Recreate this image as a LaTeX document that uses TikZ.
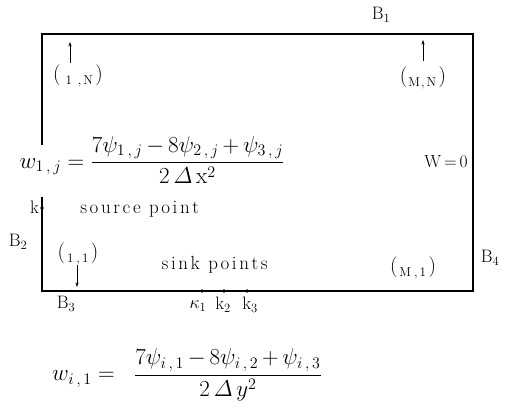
\RequirePackage{fix-cm}
\documentclass[tikz,border=0pt]{standalone}
\usepackage{amsmath}
\usepackage{fontspec}
\usetikzlibrary{arrows.meta}
\newcommand{\ijsub}[2]{{#1\,,\,#2}}
\def\lspamt{2.6pt}
\def\lsp#1{\lspA#1\relax}
\def\lspA#1{\ifx#1\relax\else#1\kern\lspamt\expandafter\lspA\fi}
\newcommand{\cidx}[4][5pt]{(\kern#1\raisebox{-0.45ex}{\fontsize{13}{15}\selectfont #2\kern#4,\kern2pt#3}\kern2.5pt)}
\begin{document}
\begin{tikzpicture}[x=1pt,y=-1pt,
  border/.style={line width=1.4pt},
  lbl/.style={inner sep=0pt, font=\fontsize{18}{21}\selectfont},
  mth/.style={inner sep=0pt, font=\fontsize{23}{27}\selectfont},
  wz/.style={inner sep=0pt, font=\fontsize{17.5}{20}\selectfont},
  idx/.style={inner sep=0pt, font=\fontsize{21}{24}\selectfont},
  spaced/.style={inner sep=0pt, font=\fontsize{19}{22}\selectfont},
  dotpt/.style={circle, fill, inner sep=0pt, minimum size=3.8pt},
  ptr/.style={-{Stealth[length=4.5pt,width=3.2pt]}, line width=0.7pt}]
\useasboundingbox (0,0) rectangle (507,413);
% corners
\coordinate (TL) at (42,34);
\coordinate (TR) at (473,34);
\coordinate (BR) at (473,291);
\coordinate (BL) at (42,291);
\coordinate (Lgap1) at (42,145);
\coordinate (Lgap2) at (42,197);
\draw[border] (Lgap1) -- (TL) -- (TR) -- (BR) -- (BL) -- (Lgap2);
% dots
\node[dotpt] (k) at (42,208) {};
\node[dotpt] (s1) at (202,291) {};
\node[dotpt] (s2) at (224,291) {};
\node[dotpt] (s3) at (247,291) {};
% boundary labels
\node[lbl] (B1) at (381,15) {B$_1$};
\node[lbl] (B2) at (18,242) {B$_2$};
\node[lbl] (B3) at (66,304) {B$_3$};
\node[lbl] (B4) at (490,258) {B$_4$};
\node[lbl, anchor=east] (klab) at (39,207) {k};
\node[lbl] (K1) at (198,306) {$\kappa_1$};
\node[lbl] (K2) at (223,305) {k$_2$};
\node[lbl] (K3) at (250,305) {k$_3$};
% corner indices
\node[idx] (cNW) at (78,76) {\cidx{1}{N}{6pt}};
\node[idx] (cNE) at (423,78) {\cidx[1pt]{M}{N}{1pt}};
\node[idx] (cSW) at (78,254) {\cidx[2pt]{1}{1}{3pt}};
\node[idx] (cSE) at (413,268) {\cidx[2pt]{M}{1}{3pt}};
\coordinate (aNW) at (70,42);
\coordinate (aNE) at (423,40);
\coordinate (aSW) at (77,287);
\draw[ptr] (70,63) -- (aNW);
\draw[ptr] (423,61) -- (aNE);
\draw[ptr] (77,265) -- (aSW);
% texts
\node[spaced] (src) at (141,209) {\lsp{source}\ \lsp{point}};
\node[spaced] (snk) at (216,265) {\lsp{sink}\ \lsp{points}};
\node[wz] (W0) at (446,162) {W$\,=\,$0};
% formulas
\node[mth] (f1) at (152,160) {$\displaystyle w_{\ijsub{1}{j}}=\frac{7\psi_{\ijsub{1}{j}}\,{-}\,8\psi_{\ijsub{2}{j}}\,{+}\,\psi_{\ijsub{3}{j}}}{2\,\varDelta\,\mathrm{x}^2}$};
\node[mth] (f2) at (187,375) {$\displaystyle w_{\ijsub{i}{1}}=\hspace{13pt}\frac{7\psi_{\ijsub{i}{1}}\,{-}\,8\psi_{\ijsub{i}{2}}\,{+}\,\psi_{\ijsub{i}{3}}}{2\,\varDelta\,y^2}$};
\end{tikzpicture}
\end{document}
